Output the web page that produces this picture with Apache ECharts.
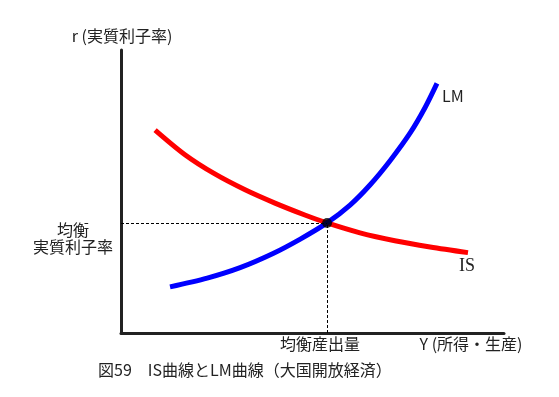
<!DOCTYPE html>
<html>
<head>
<meta charset="utf-8">
<script src="https://cdn.jsdelivr.net/npm/echarts@6/dist/echarts.min.js"></script>
<style>
html,body{margin:0;padding:0;background:#fff;}
#main{width:559px;height:397px;}
</style>
</head>
<body>
<div id="main"></div>
<script>
// IS curve (Y, r) in abstract units 0..100
const isCurve = [[8.9,71.7],[16.7,63.0],[24.5,56.2],[32.4,50.6],[40.2,45.9],[48.0,41.7],[53.8,38.9],[62.4,35.4],[71.5,32.6],[80.7,30.4],[90.6,28.4]];
// LM curve
const lmCurve = [[12.8,16.3],[22.5,19.4],[31.1,23.1],[39.7,28.1],[46.7,33.1],[53.8,38.9],[59.8,45.2],[65.0,52.3],[70.2,60.8],[75.5,70.7],[79.4,79.7],[82.5,88.2]];
// equilibrium
const equilibrium = [53.8, 38.9];
const titleText = '図59\u3000IS曲線とLM曲線（大国開放経済）';
const yAxisName = 'r (実質利子率)';
const xAxisName = 'Y (所得・生産)';
const eqRateLabel = '均衡\n実質利子率';
const eqOutputLabel = '均衡産出量';

const FONT = '"Noto Sans CJK JP", "Noto Sans", sans-serif';
const TXT = '#222';

const chart = echarts.init(document.getElementById('main'), null, {renderer:'canvas'});
chart.setOption({
  animation:false,
  backgroundColor:'#fff',
  title:{
    text:titleText, left:93, top:357,
    textStyle:{fontFamily:FONT, fontSize:16, fontWeight:'normal', color:TXT}
  },
  grid:{left:121, right:55, top:50, bottom:64},
  xAxis:{
    type:'value', min:0, max:100,
    axisLine:{show:true, onZero:false, lineStyle:{color:'#222', width:3}},
    axisTick:{show:false}, axisLabel:{show:false}, splitLine:{show:false}
  },
  yAxis:{
    type:'value', min:0, max:100,
    axisLine:{show:true, onZero:false, lineStyle:{color:'#222', width:3}},
    axisTick:{show:false}, axisLabel:{show:false}, splitLine:{show:false}
  },
  series:[
    {
      name:'IS', type:'line', data:isCurve, smooth:0.3, showSymbol:false,
      lineStyle:{color:'#ff0000', width:5}, z:2
    },
    {
      name:'LM', type:'line', data:lmCurve, smooth:0.3, showSymbol:false,
      lineStyle:{color:'#0000ff', width:5}, z:3
    },
    {
      name:'eq', type:'scatter', data:[equilibrium], symbolSize:10,
      itemStyle:{color:'#000'}, z:5,
      markLine:{
        silent:true, symbol:'none', label:{show:false},
        lineStyle:{color:'#000', width:1, type:[3,2]},
        data:[
          [{coord:[0, equilibrium[1]]},{coord:[equilibrium[0], equilibrium[1]]}],
          [{coord:[equilibrium[0], 0]},{coord:[equilibrium[0], equilibrium[1]]}]
        ]
      }
    }
  ],
  graphic:[
    {type:'text', x:122, y:36, style:{text:yAxisName, font:'16px '+FONT, fill:TXT, align:'center', verticalAlign:'middle'}},
    {type:'text', x:442, y:96, style:{text:'LM', font:'16px '+FONT, fill:TXT, align:'left', verticalAlign:'middle'}},
    {type:'text', x:459, y:266, style:{text:'IS', font:'18px "Liberation Serif", serif', fill:TXT, align:'left', verticalAlign:'middle'}},
    {type:'text', x:73, y:238, style:{text:eqRateLabel, font:'16px '+FONT, fill:TXT, align:'center', verticalAlign:'middle', lineHeight:17}},
    {type:'text', x:320, y:344, style:{text:eqOutputLabel, font:'16px '+FONT, fill:TXT, align:'center', verticalAlign:'middle'}},
    {type:'text', x:471, y:344, style:{text:xAxisName, font:'16px '+FONT, fill:TXT, align:'center', verticalAlign:'middle'}}
  ]
});
</script>
</body>
</html>
